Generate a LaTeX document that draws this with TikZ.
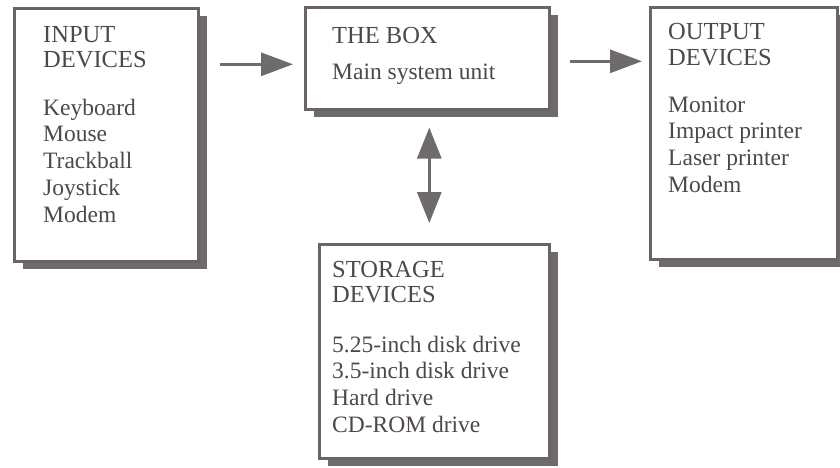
\documentclass[tikz,border=0pt]{standalone}
\usepackage{fontspec}
\setmainfont{Liberation Serif}
\usetikzlibrary{shadows,arrows.meta}
\definecolor{bordercol}{HTML}{6A6466}
\definecolor{shadowcol}{HTML}{6F6A6B}
\definecolor{textcol}{HTML}{4E4849}
\begin{document}
\begin{tikzpicture}[x=1pt,y=-1pt,
  devbox/.style={draw=bordercol, line width=2.6pt, fill=white, rectangle, inner sep=0pt,
    anchor=north west,
    drop shadow={shadow xshift=9pt, shadow yshift=-8pt, fill=shadowcol, opacity=1}},
  headtxt/.style={anchor=base west, inner sep=0pt, text=textcol,
    font=\fontsize{24.5}{25.5}\selectfont},
  itemtxt/.style={anchor=base west, inner sep=0pt, text=textcol,
    font=\fontsize{23.5}{26.8}\selectfont},
  conn/.style={draw=shadowcol, line width=3pt,
    arrows={-Triangle[length=32pt,width=23pt]}},
  dconn/.style={draw=shadowcol, line width=3pt,
    arrows={Triangle[length=31pt,width=24pt]-Triangle[length=31pt,width=24pt]}}]
\useasboundingbox (0,0) rectangle (840,467);

% boxes
\node[devbox, minimum width=184pt, minimum height=253pt] (inbox) at (13,7) {};
\node[devbox, minimum width=244pt, minimum height=102pt] (sysbox) at (304,6) {};
\node[devbox, minimum width=187pt, minimum height=252pt] (outbox) at (649,6) {};
\node[devbox, minimum width=230pt, minimum height=214pt] (storbox) at (318,243) {};

% input texts
\node[headtxt] (inh1) at (43,42) {INPUT};
\node[headtxt] (inh2) at (43,67) {DEVICES};
\foreach \t [count=\i] in {Keyboard,Mouse,Trackball,Joystick,Modem}
  \node[itemtxt] (ini\i) at (43,{115+(\i-1)*26.8}) {\t};

% system unit texts
\node[headtxt] (sysh1) at (332,43) {THE BOX};
\node[itemtxt] (sysi1) at (332,79) {Main system unit};

% output texts
\node[headtxt] (outh1) at (668,39) {OUTPUT};
\node[headtxt] (outh2) at (668,65) {DEVICES};
\foreach \t [count=\i] in {Monitor,Impact printer,Laser printer,Modem}
  \node[itemtxt] (outi\i) at (668,{112+(\i-1)*26.7}) {\t};

% storage texts
\node[headtxt] (storh1) at (332,277) {STORAGE};
\node[headtxt] (storh2) at (332,302) {DEVICES};
\foreach \t [count=\i] in {5.25-inch disk drive,3.5-inch disk drive,Hard drive,CD-ROM drive}
  \node[itemtxt] (stori\i) at (332,{352+(\i-1)*26.7}) {\t};

% connectors
\draw[conn, shorten <=20pt, shorten >=11pt]
  ([yshift=-6pt]sysbox.west -| inbox.east) -- ([yshift=-6pt]sysbox.west);
\draw[conn, shorten <=19pt, shorten >=7pt]
  ([yshift=-3pt]sysbox.east) -- ([yshift=-3pt]sysbox.east -| outbox.west);
\draw[dconn, shorten <=17pt, shorten >=20pt]
  ([xshift=2pt]sysbox.south) -- ([xshift=2pt]sysbox.south |- storbox.north);
\end{tikzpicture}
\end{document}
